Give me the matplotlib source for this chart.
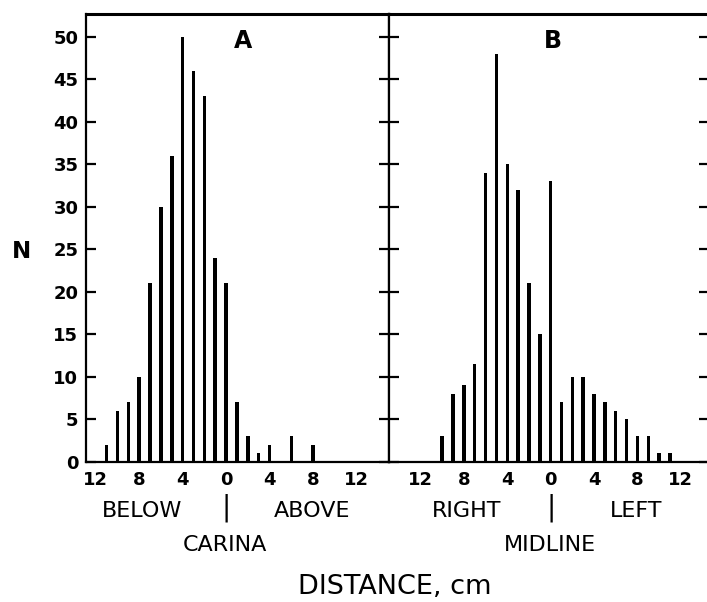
import numpy as np
import matplotlib
matplotlib.use("Agg")
import matplotlib.pyplot as plt
import matplotlib.transforms as mtransforms

# panel A: distance from carina (negative = below)
pos_a = [-11, -10, -9, -8, -7, -6, -5, -4, -3, -2, -1, 0, 1, 2, 3, 4, 6, 8]
n_a = [2, 6, 7, 10, 21, 30, 36, 50, 46, 43, 24, 21, 7, 3, 1, 2, 3, 2]

# panel B: distance from midline (negative = right)
pos_b = [-10, -9, -8, -7, -6, -5, -4, -3, -2, -1, 0, 1, 2, 3, 4, 5, 6, 7, 8, 9, 10, 11]
n_b = [3, 8, 9, 11.5, 34, 48, 35, 32, 21, 15, 33, 7, 10, 10, 8, 7, 6, 5, 3, 3, 1, 1]

xticks = [-12, -8, -4, 0, 4, 8, 12]
xtick_labels = ["12", "8", "4", "0", "4", "8", "12"]
yticks = [0, 5, 10, 15, 20, 25, 30, 35, 40, 45, 50]

plt.rcParams['font.family'] = 'DejaVu Sans'

W, H = 707, 602
fig = plt.figure(figsize=(W / 100, H / 100), dpi=100)
fig.patch.set_facecolor('white')

bottom = (H - 461.7) / H
height = (461.7 - 14) / H
axA = fig.add_axes([86 / W, bottom, (389 - 86) / W, height])
axB = fig.add_axes([389 / W, bottom, (709 - 389) / W, height])

for ax, pos, n, xlim in [(axA, pos_a, n_a, (-12.9, 15.0)), (axB, pos_b, n_b, (-14.9, 14.6))]:
    ax.bar(pos, n, width=0.32, color='black', edgecolor='none')
    ax.set_xlim(*xlim)
    ax.set_ylim(0, 52.7)
    ax.set_xticks(xticks)
    ax.set_xticklabels(xtick_labels, fontsize=13, fontweight='bold')
    ax.tick_params(axis='x', length=0, pad=7)
    ax.set_yticks(yticks)
    ax.tick_params(axis='y', direction='in', length=7.5, width=1.6, left=True, right=True)
    for s in ax.spines.values():
        s.set_linewidth(1.6)
    ax.spines['top'].set_linewidth(2.2)

axA.set_yticklabels([str(v) for v in yticks], fontsize=13, fontweight='bold')
axA.tick_params(axis='y', pad=5.5)
axB.set_yticklabels([])

axA.text(1.57, 0.94, "A", transform=mtransforms.blended_transform_factory(axA.transData, axA.transAxes),
         ha='center', va='center', fontsize=17, fontweight='bold')
axB.text(0.23, 0.94, "B", transform=mtransforms.blended_transform_factory(axB.transData, axB.transAxes),
         ha='center', va='center', fontsize=17, fontweight='bold')

# side labels under each panel
for ax, left, right, mid in [(axA, "BELOW", "ABOVE", "CARINA"), (axB, "RIGHT", "LEFT", "MIDLINE")]:
    tr = mtransforms.blended_transform_factory(ax.transData, fig.transFigure)
    ax.text(-7.7, 1 - 511 / H, left, transform=tr, ha='center', va='center', fontsize=16)
    ax.text(7.9, 1 - 511 / H, right, transform=tr, ha='center', va='center', fontsize=16)
    ax.text(0, 1 - 508 / H, "|", transform=tr, ha='center', va='center', fontsize=20)
    ax.text(-0.1, 1 - 545 / H, mid, transform=tr, ha='center', va='center', fontsize=16)

fig.text(22 / W, 1 - 251 / H, "N", ha='center', va='center', fontsize=16.5, fontweight='bold')
fig.text(395 / W, 1 - 587 / H, "DISTANCE, cm", ha='center', va='center', fontsize=19.5)

fig.savefig('out.png', dpi=100)
